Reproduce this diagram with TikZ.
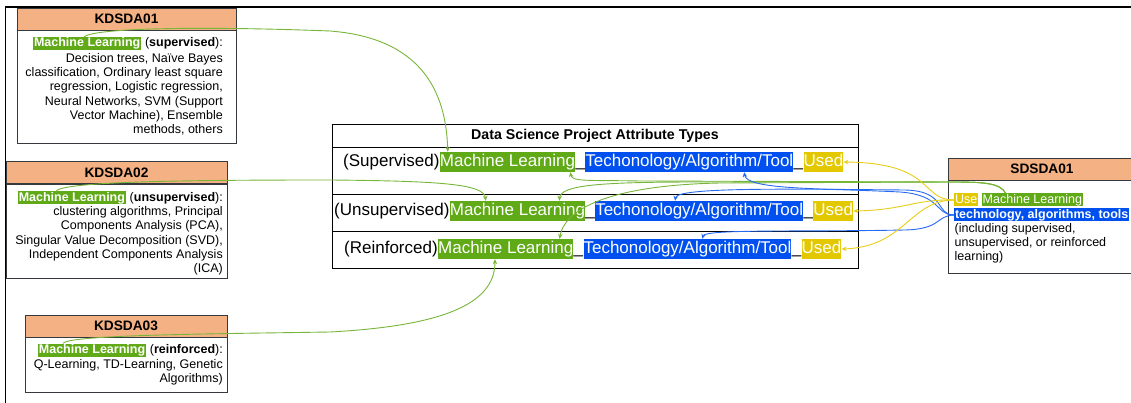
\documentclass[tikz,border=0pt]{standalone}
\usepackage{fontspec}
\setmainfont{Liberation Sans}
\usetikzlibrary{arrows.meta,calc}

\definecolor{mlgreen}{HTML}{60A917}
\definecolor{techblue}{HTML}{0050EF}
\definecolor{useyellow}{HTML}{E3C800}
\definecolor{hdrorange}{HTML}{F4B183}
\definecolor{boxline}{HTML}{36393D}

\tikzset{
  hdr/.style={draw=boxline, fill=hdrorange, line width=0.9pt, inner sep=0pt,
    font=\fontsize{13.7}{16}\selectfont\bfseries, minimum height=22pt},
  bodybox/.style={draw=boxline, fill=white, line width=0.9pt, inner sep=0pt},
  txt/.style={font=\fontsize{12.5}{14.3}\selectfont, inner sep=0pt,
    text height=9.5pt, text depth=2.5pt},
  hmark/.style={txt, text=white, fill=#1, inner xsep=0.8pt, inner ysep=0.5pt},
  hmarkb/.style={hmark=#1, font=\fontsize{12.5}{14.3}\selectfont\bfseries},
  rowtxt/.style={font=\fontsize{17}{20}\selectfont, inner xsep=0pt, inner ysep=1pt,
    text height=14pt, text depth=4pt},
  hl/.style={rowtxt, text=white, fill=#1},
  link/.style={line width=0.9pt, -{Stealth[length=5pt,width=4.5pt]}},
  gline/.style={link, draw=mlgreen!85!white},
  bline/.style={link, draw=techblue!85!white},
  yline/.style={link, draw=useyellow!90!white},
}

\begin{document}
\begin{tikzpicture}[x=1pt, y=-1pt]
\useasboundingbox (0,0) rectangle (1131,403);
\clip (0,0) rectangle (1131,403);

% outer frame
\draw[line width=1.6pt] (5.5,403) -- (5.5,7) -- (1131,7);

% ---------- KDSDA01 ----------
\node[hdr, minimum width=219pt] (k1h) at (126.5,19) {KDSDA01};
\node[bodybox, minimum width=219pt, minimum height=113pt, anchor=north] (k1b) at (k1h.south) {};
\node[txt, anchor=east] (k1s) at (223,43.5) {(\textbf{supervised}):};
\node[hmarkb=mlgreen, anchor=east] (k1ml) at ($(k1s.west)+(-3.5,0)$) {Machine Learning};
\foreach \t [count=\i] in {{Decision trees, Naïve Bayes},{classification, Ordinary least square},
  {regression, Logistic regression,},{Neural Networks, SVM (Support},
  {Vector Machine), Ensemble},{methods, others}}
  \node[txt, anchor=east] (k1t\i) at (223,{59+14.25*(\i-1)}) {\t};

% ---------- KDSDA02 ----------
\node[hdr, minimum width=221pt] (k2h) at (116.5,172.5) {KDSDA02};
\node[bodybox, minimum width=221pt, minimum height=94pt, anchor=north] (k2b) at (k2h.south) {};
\node[txt, anchor=east] (k2s) at (223,198) {(\textbf{unsupervised}):};
\node[hmarkb=mlgreen, anchor=east] (k2ml) at ($(k2s.west)+(-3.5,0)$) {Machine Learning};
\foreach \t [count=\i] in {{clustering algorithms, Principal},{Components Analysis (PCA),},
  {Singular Value Decomposition (SVD),},{Independent Components Analysis},{(ICA)}}
  \node[txt, anchor=east] (k2t\i) at (223,{212+14.25*(\i-1)}) {\t};

% ---------- KDSDA03 ----------
\node[hdr, minimum width=202pt] (k3h) at (126,326) {KDSDA03};
\node[bodybox, minimum width=202pt, minimum height=55pt, anchor=north] (k3b) at (k3h.south) {};
\node[txt, anchor=east] (k3s) at (223,350) {(\textbf{reinforced}):};
\node[hmarkb=mlgreen, anchor=east] (k3ml) at ($(k3s.west)+(-3.5,0)$) {Machine Learning};
\node[txt, anchor=east] (k3t1) at (223,365) {Q-Learning, TD-Learning, Genetic};
\node[txt, anchor=east] (k3t2) at (223,379) {Algorithms)};

% ---------- attribute table ----------
\node[draw, line width=0.9pt, minimum width=526pt, minimum height=144pt, inner sep=0pt,
  anchor=north west] (tbl) at (332,124) {};
\node[font=\fontsize{14.2}{16}\selectfont\bfseries, inner sep=0pt] (ttl) at (595,135.5)
  {Data Science Project Attribute Types};
\draw[line width=0.9pt] (tbl.west |- 0,147) -- (tbl.east |- 0,147);
\draw[line width=0.9pt] (tbl.west |- 0,194) -- (tbl.east |- 0,194);
\draw[line width=0.9pt] (tbl.west |- 0,231.5) -- (tbl.east |- 0,231.5);

\node[rowtxt, anchor=west] (r1lab) at (343,162) {(Supervised)};
\node[hl=mlgreen, anchor=west] (r1ml) at (r1lab.east) {Machine Learning};
\node[rowtxt, anchor=west] (r1u1) at (r1ml.east) {\_};
\node[hl=techblue, anchor=west] (r1tech) at (r1u1.east) {Techonology/Algorithm/Tool};
\node[rowtxt, anchor=west] (r1u2) at (r1tech.east) {\_};
\node[hl=useyellow, anchor=west] (r1used) at (r1u2.east) {Used};

\node[rowtxt, anchor=west] (r2lab) at (334,211) {(Unsupervised)};
\node[hl=mlgreen, anchor=west] (r2ml) at (r2lab.east) {Machine Learning};
\node[rowtxt, anchor=west] (r2u1) at (r2ml.east) {\_};
\node[hl=techblue, anchor=west] (r2tech) at (r2u1.east) {Techonology/Algorithm/Tool};
\node[rowtxt, anchor=west] (r2u2) at (r2tech.east) {\_};
\node[hl=useyellow, anchor=west] (r2used) at (r2u2.east) {Used};

\node[rowtxt, anchor=west] (r3lab) at (344,249) {(Reinforced)};
\node[hl=mlgreen, anchor=west] (r3ml) at (r3lab.east) {Machine Learning};
\node[rowtxt, anchor=west] (r3u1) at (r3ml.east) {\_};
\node[hl=techblue, anchor=west] (r3tech) at (r3u1.east) {Techonology/Algorithm/Tool};
\node[rowtxt, anchor=west] (r3u2) at (r3tech.east) {\_};
\node[hl=useyellow, anchor=west] (r3used) at (r3u2.east) {Used};

% ---------- SDSDA01 ----------
\node[hdr, minimum width=188pt] (sh) at (1042,169) {SDSDA01};
\node[bodybox, minimum width=188pt, minimum height=93pt, anchor=north] (sb) at (sh.south) {};
\node[hmark=useyellow, anchor=west] (suse) at (954,200) {Use};
\node[hmark=mlgreen, anchor=west] (sml) at ($(suse.east)+(3.5,0)$) {Machine Learning};
\node[hmarkb=techblue, anchor=west] (stech) at (954,215) {technology, algorithms, tools};
\node[txt, anchor=west] (st1) at (954.5,229) {(including supervised,};
\node[txt, anchor=west] (st2) at (954.5,243) {unsupervised, or reinforced};
\node[txt, anchor=west] (st3) at (954.5,257) {learning)};

% ---------- links from the knowledge boxes ----------
\draw[gline] ($(k1ml.north west)+(51,0)$) .. controls (95,28) and (200,26) .. (330,31)
  .. controls (420,38) and (446,90) .. ($(r1ml.north west)+(8,0)$);
\draw[gline] ($(k2ml.north west)+(38,0)$) .. controls (62,181) and (200,180) .. (330,180)
  .. controls (440,181) and (484,184) .. ($(r2ml.north west)+(36,0)$);
\draw[gline] ($(k3ml.north west)+(25,0)$) .. controls (70,335) and (200,334) .. (330,332)
  .. controls (440,326) and (495,305) .. ($(r3ml.south west)+(57,0)$);

% ---------- links from SDSDA01 ----------
\draw[gline] ($(sml.north west)+(24,0)$) .. controls (1000,183) and (985,182) .. (950,182)
  -- (640,181) .. controls (590,180) and (572,182) .. ($(r1ml.south east)+(-5,0)$);
\draw[gline] ($(sml.north west)+(24,0)$) .. controls (1000,183) and (985,182) .. (950,182)
  -- (700,182) .. controls (600,182) and (561,185) .. ($(r2ml.north east)+(-26,0)$);
\draw[gline] ($(sml.north west)+(24,0)$) .. controls (1000,183) and (985,182) .. (950,182)
  -- (720,183) .. controls (620,185) and (566,205) .. ($(r3ml.north east)+(-14,0)$);

\draw[bline] (stech.west) .. controls (935,215) and (942,195) .. (900,192)
  .. controls (820,188) and (747,190) .. ($(r1tech.south west)+(159,0)$);
\draw[bline] (stech.west) .. controls (935,215) and (947,191) .. (905,190)
  .. controls (790,189) and (677,187) .. ($(r2tech.north west)+(80,0)$);
\draw[bline] (stech.west) .. controls (935,216) and (942,229) .. (905,230)
  .. controls (800,232) and (705,229) .. ($(r3tech.north west)+(119,0)$);

\draw[yline] (suse.west) .. controls (920,200) and (935,163) .. (r1used.east);
\draw[yline] (suse.west) .. controls (915,199) and (905,210) .. (r2used.east);
\draw[yline] (suse.west) .. controls (910,200) and (905,247) .. (r3used.east);
\end{tikzpicture}
\end{document}
